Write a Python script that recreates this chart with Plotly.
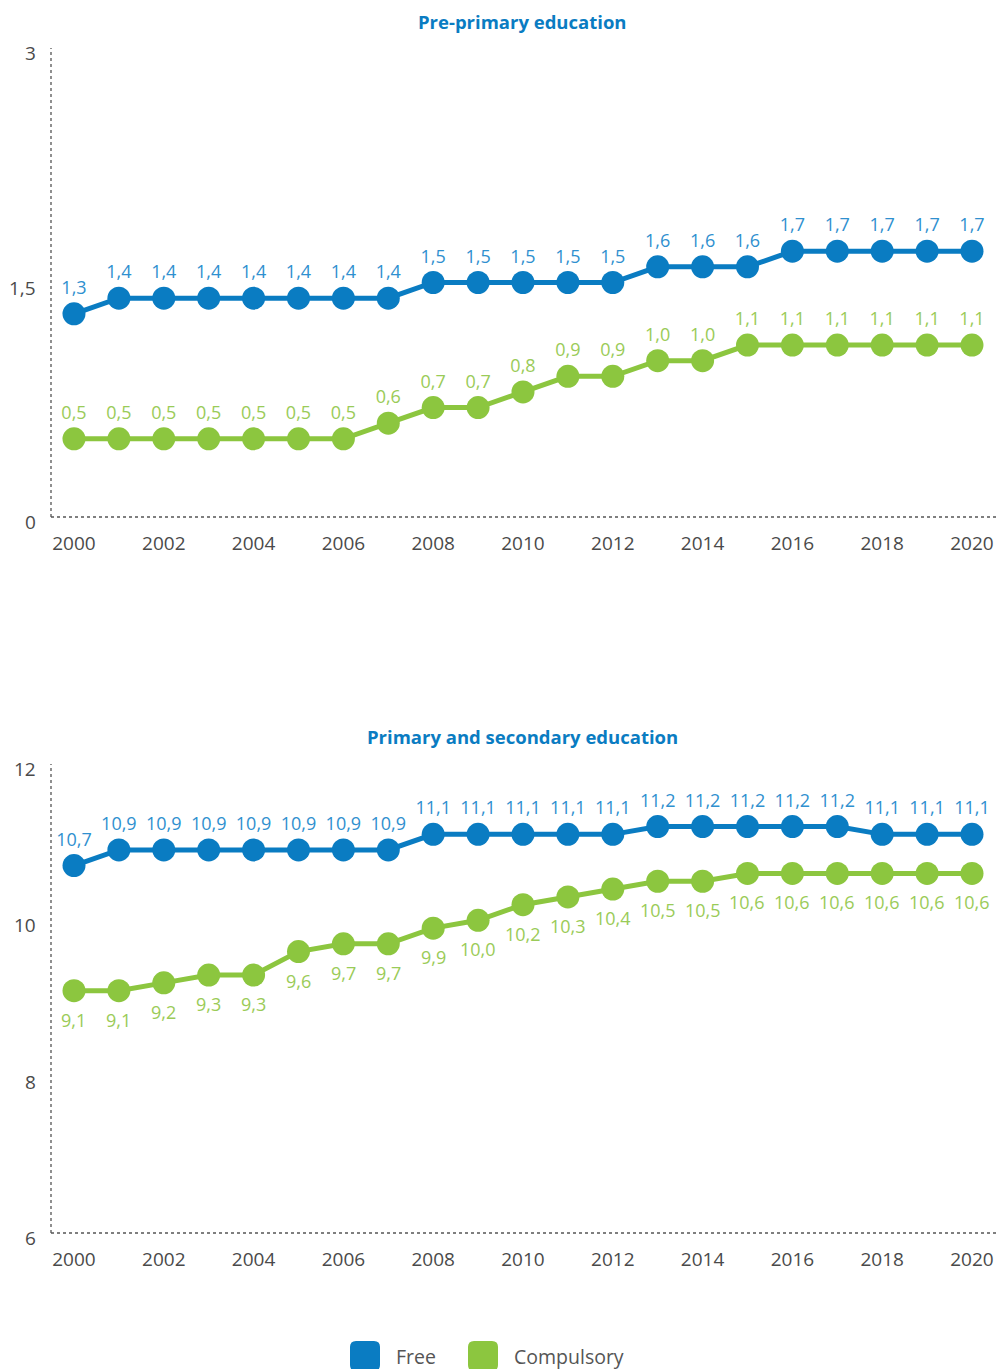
import plotly.graph_objects as go

years = list(range(2000, 2021))

pre_free = [1.3, 1.4, 1.4, 1.4, 1.4, 1.4, 1.4, 1.4, 1.5, 1.5, 1.5, 1.5, 1.5,
            1.6, 1.6, 1.6, 1.7, 1.7, 1.7, 1.7, 1.7]
pre_comp = [0.5, 0.5, 0.5, 0.5, 0.5, 0.5, 0.5, 0.6, 0.7, 0.7, 0.8, 0.9, 0.9,
            1.0, 1.0, 1.1, 1.1, 1.1, 1.1, 1.1, 1.1]
ps_free = [10.7, 10.9, 10.9, 10.9, 10.9, 10.9, 10.9, 10.9, 11.1, 11.1, 11.1,
           11.1, 11.1, 11.2, 11.2, 11.2, 11.2, 11.2, 11.1, 11.1, 11.1]
ps_comp = [9.1, 9.1, 9.2, 9.3, 9.3, 9.6, 9.7, 9.7, 9.9, 10.0, 10.2, 10.3, 10.4,
           10.5, 10.5, 10.6, 10.6, 10.6, 10.6, 10.6, 10.6]

titles = ["Pre-primary education", "Primary and secondary education"]
series_names = ["Free", "Compulsory"]
pre_ticks = [0, 1.5, 3]
pre_ticktext = ["0", "1,5", "3"]
ps_ticks = [6, 8, 10, 12]
ps_ticktext = ["6", "8", "10", "12"]
x_ticks = list(range(2000, 2021, 2))

BLUE = "#0a7cc2"
GREEN = "#8cc63f"
BLUE_T = "#2f90cf"
GREEN_T = "#9acb58"
GREY = "#4a4a4a"
FONT = "Open Sans"

W = 997
H = 1369
L = 51
PW = W - L

def px_x(x):
    return (x - L) / PW

def px_y(y):
    return 1 - y / H

def fmt(v):
    return f"{v:.1f}".replace(".", ",")

fig = go.Figure()

def add_series(y, color, tcolor, xa, ya, pos, labels=True):
    fig.add_trace(go.Scatter(
        x=years, y=y, mode="lines+markers+text" if labels else "lines+markers",
        line=dict(color=color, width=5),
        marker=dict(color=color, size=23),
        text=[fmt(v) for v in y] if labels else None, textposition=pos,
        textfont=dict(color=tcolor, size=18, family=FONT),
        xaxis=xa, yaxis=ya, showlegend=False, cliponaxis=False,
        hoverinfo="skip"))

add_series(pre_free, BLUE, BLUE_T, "x", "y", "top center")
add_series(pre_comp, GREEN, GREEN_T, "x", "y", "top center")
add_series(ps_free, BLUE, BLUE_T, "x2", "y2", "top center")
add_series(ps_comp, GREEN, GREEN_T, "x2", "y2", "bottom center", labels=False)
for xv, yv in zip(years, ps_comp):
    fig.add_annotation(x=xv, y=yv, xref="x2", yref="y2", text=fmt(yv),
                       showarrow=False, yshift=-29, xanchor="center", yanchor="middle",
                       font=dict(color=GREEN_T, size=18, family=FONT))

# y tick labels (slightly lowered as in the reference)
for vals, texts, xa, ya in [(pre_ticks, pre_ticktext, "x", "y"),
                            (ps_ticks, ps_ticktext, "x2", "y2")]:
    for v, t in zip(vals, texts):
        fig.add_annotation(x=0, y=v, xref=f"{xa} domain", yref=ya, text=t,
                           showarrow=False, xanchor="right", yanchor="middle",
                           xshift=-13, yshift=-5,
                           font=dict(size=19, color=GREY, family=FONT))

xr = [1999.488, 2020.557]
xcommon = dict(range=xr, tickvals=x_ticks, showgrid=False, zeroline=False,
               showline=False, ticks="", tickfont=dict(size=19, color=GREY, family=FONT),
               ticklabelstandoff=13, fixedrange=True)
ycommon = dict(showgrid=False, zeroline=False, showline=False, ticks="",
               showticklabels=False, fixedrange=True)

fig.update_layout(
    width=W, height=H,
    margin=dict(l=L, r=0, t=0, b=0, autoexpand=False),
    paper_bgcolor="white", plot_bgcolor="white",
    separators=", ",
    font=dict(family=FONT, color=GREY),
    xaxis=dict(domain=[0, 1], anchor="y", **xcommon),
    yaxis=dict(domain=[px_y(517), px_y(48)], range=[0, 3], tickvals=pre_ticks,
               anchor="x", **ycommon),
    xaxis2=dict(domain=[0, 1], anchor="y2", **xcommon),
    yaxis2=dict(domain=[px_y(1233), px_y(764)], range=[6, 12], tickvals=ps_ticks,
                anchor="x2", **ycommon),
)

# dotted axis lines
for xa, ya in [("x", "y"), ("x2", "y2")]:
    fig.add_shape(type="line", xref=f"{xa} domain", yref=f"{ya} domain",
                  x0=0, x1=1, y0=0, y1=0, line=dict(color="#555", width=1.3, dash="dot"))
    fig.add_shape(type="line", xref=f"{xa} domain", yref=f"{ya} domain",
                  x0=0, x1=0, y0=0, y1=1, line=dict(color="#555", width=1.3, dash="dot"))

# titles
for t, y in zip(titles, [22, 736]):
    fig.add_annotation(text=f"<b>{t}</b>", xref="paper", yref="paper",
                       x=px_x(522), y=px_y(y), showarrow=False,
                       font=dict(size=18.5, color=BLUE, family=FONT),
                       xanchor="center", yanchor="middle")

# legend (rounded squares + labels)
def rounded_square(cx, cy, s=30, r=6):
    h = s / 2
    return (f"M {cx-h+r},{cy-h} L {cx+h-r},{cy-h} Q {cx+h},{cy-h} {cx+h},{cy-h+r} "
            f"L {cx+h},{cy+h-r} Q {cx+h},{cy+h} {cx+h-r},{cy+h} "
            f"L {cx-h+r},{cy+h} Q {cx-h},{cy+h} {cx-h},{cy+h-r} "
            f"L {cx-h},{cy-h+r} Q {cx-h},{cy-h} {cx-h+r},{cy-h} Z")

leg = [(series_names[0], BLUE, 365, 395), (series_names[1], GREEN, 483, 513)]
for name, col, sx, tx in leg:
    fig.add_shape(type="path", xref="paper", yref="paper",
                  xsizemode="pixel", ysizemode="pixel",
                  xanchor=px_x(sx), yanchor=px_y(1356),
                  path=rounded_square(0, 0), fillcolor=col, line=dict(width=0))
    fig.add_annotation(text=name, xref="paper", yref="paper",
                       x=px_x(tx), y=px_y(1356), showarrow=False,
                       xanchor="left", yanchor="middle", borderpad=0,
                       font=dict(size=19.5, color="#555555", family=FONT))

fig.write_html(
    "out.html",
    config={"displayModeBar": False, "staticPlot": True},
    post_script="document.documentElement.style.overflow='hidden';"
                "document.body.style.margin='0';"
                "document.body.style.overflow='hidden';",
)
